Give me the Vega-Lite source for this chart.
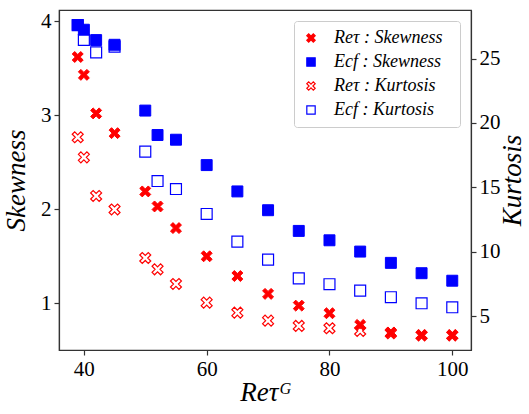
{
  "$schema": "https://vega.github.io/schema/vega-lite/v6.json",
  "width": 412,
  "height": 340,
  "autosize": {"type": "none"},
  "padding": {"left": 59, "top": 10, "right": 58, "bottom": 64},
  "background": "white",
  "config": {
    "view": {"stroke": "#333", "strokeWidth": 1.2},
    "axis": {
      "domainColor": "#333", "tickColor": "#333", "domainWidth": 1.2, "tickWidth": 1.2,
      "labelFont": "Liberation Serif", "labelFontSize": 21, "labelColor": "black",
      "titleFont": "Liberation Serif", "titleFontStyle": "italic", "titleFontSize": 27,
      "titleFontWeight": "normal", "titleColor": "black", "grid": false, "tickSize": 5, "labelPadding": 3
    },
    "legend": {
      "labelFont": "Liberation Serif", "labelFontStyle": "italic", "labelFontSize": 18, "labelColor": "black"
    }
  },
  "data": {
    "values": [
      {"re": 39, "s": "ReS", "v": 3.62}, {"re": 40, "s": "ReS", "v": 3.43}, {"re": 42, "s": "ReS", "v": 3.02}, {"re": 45, "s": "ReS", "v": 2.81},
      {"re": 50, "s": "ReS", "v": 2.19}, {"re": 52, "s": "ReS", "v": 2.03}, {"re": 55, "s": "ReS", "v": 1.80}, {"re": 60, "s": "ReS", "v": 1.50},
      {"re": 65, "s": "ReS", "v": 1.29}, {"re": 70, "s": "ReS", "v": 1.10}, {"re": 75, "s": "ReS", "v": 0.975}, {"re": 80, "s": "ReS", "v": 0.894},
      {"re": 85, "s": "ReS", "v": 0.77}, {"re": 90, "s": "ReS", "v": 0.69}, {"re": 95, "s": "ReS", "v": 0.66}, {"re": 100, "s": "ReS", "v": 0.66},
      {"re": 39, "s": "EcS", "v": 3.96}, {"re": 40, "s": "EcS", "v": 3.91}, {"re": 42, "s": "EcS", "v": 3.80}, {"re": 45, "s": "EcS", "v": 3.75},
      {"re": 50, "s": "EcS", "v": 3.05}, {"re": 52, "s": "EcS", "v": 2.79}, {"re": 55, "s": "EcS", "v": 2.74}, {"re": 60, "s": "EcS", "v": 2.47},
      {"re": 65, "s": "EcS", "v": 2.19}, {"re": 70, "s": "EcS", "v": 1.99}, {"re": 75, "s": "EcS", "v": 1.77}, {"re": 80, "s": "EcS", "v": 1.67},
      {"re": 85, "s": "EcS", "v": 1.55}, {"re": 90, "s": "EcS", "v": 1.43}, {"re": 95, "s": "EcS", "v": 1.32}, {"re": 100, "s": "EcS", "v": 1.24},
      {"re": 39, "s": "ReK", "v": 18.89}, {"re": 40, "s": "ReK", "v": 17.33}, {"re": 42, "s": "ReK", "v": 14.33}, {"re": 45, "s": "ReK", "v": 13.28},
      {"re": 50, "s": "ReK", "v": 9.51}, {"re": 52, "s": "ReK", "v": 8.63}, {"re": 55, "s": "ReK", "v": 7.49}, {"re": 60, "s": "ReK", "v": 6.04},
      {"re": 65, "s": "ReK", "v": 5.26}, {"re": 70, "s": "ReK", "v": 4.64}, {"re": 75, "s": "ReK", "v": 4.23}, {"re": 80, "s": "ReK", "v": 4.05},
      {"re": 85, "s": "ReK", "v": 3.84}, {"re": 90, "s": "ReK", "v": 3.66}, {"re": 95, "s": "ReK", "v": 3.5}, {"re": 100, "s": "ReK", "v": 3.5},
      {"re": 39, "s": "EcK", "v": 27.6}, {"re": 40, "s": "EcK", "v": 26.45}, {"re": 42, "s": "EcK", "v": 25.49}, {"re": 45, "s": "EcK", "v": 25.93},
      {"re": 50, "s": "EcK", "v": 17.77}, {"re": 52, "s": "EcK", "v": 15.49}, {"re": 55, "s": "EcK", "v": 14.87}, {"re": 60, "s": "EcK", "v": 12.93},
      {"re": 65, "s": "EcK", "v": 10.78}, {"re": 70, "s": "EcK", "v": 9.38}, {"re": 75, "s": "EcK", "v": 7.93}, {"re": 80, "s": "EcK", "v": 7.47},
      {"re": 85, "s": "EcK", "v": 6.97}, {"re": 90, "s": "EcK", "v": 6.46}, {"re": 95, "s": "EcK", "v": 5.99}, {"re": 100, "s": "EcK", "v": 5.68}
    ]
  },
  "encoding": {
    "x": {
      "field": "re", "type": "quantitative",
      "scale": {"domain": [35.95, 103.05], "nice": false, "zero": false},
      "axis": {"values": [40, 60, 80, 100], "title": "Reτᴳ", "titlePadding": 0}
    },
    "color": {
      "field": "s", "type": "nominal",
      "scale": {"domain": ["ReS", "EcS", "ReK", "EcK"], "range": ["#ff0000", "#0000ff", "#ff0000", "#0000ff"]},
      "legend": {
        "title": null, "orient": "top-right", "offset": 11,
        "strokeColor": "#cccccc", "fillColor": "white", "cornerRadius": 3, "padding": 8,
        "rowPadding": 6, "symbolSize": 70, "symbolStrokeWidth": 1.2, "labelOffset": 14,
        "labelExpr": "datum.value == 'ReS' ? 'Reτ  :  Skewness' : datum.value == 'EcS' ? 'Ecf  :  Skewness' : datum.value == 'ReK' ? 'Reτ  :  Kurtosis' : 'Ecf  :  Kurtosis'"
      }
    },
    "fill": {
      "field": "s", "type": "nominal",
      "scale": {"domain": ["ReS", "EcS", "ReK", "EcK"], "range": ["#ff0000", "#0000ff", "transparent", "transparent"]},
      "legend": null
    },
    "shape": {
      "field": "s", "type": "nominal",
      "scale": {
        "domain": ["ReS", "EcS", "ReK", "EcK"],
        "range": [
          "M -1 -0.55 L -0.55 -1 L 0 -0.45 L 0.55 -1 L 1 -0.55 L 0.45 0 L 1 0.55 L 0.55 1 L 0 0.45 L -0.55 1 L -1 0.55 L -0.45 0 Z",
          "square",
          "M -1 -0.55 L -0.55 -1 L 0 -0.45 L 0.55 -1 L 1 -0.55 L 0.45 0 L 1 0.55 L 0.55 1 L 0 0.45 L -0.55 1 L -1 0.55 L -0.45 0 Z",
          "square"
        ]
      },
      "legend": null
    }
  },
  "layer": [
    {
      "transform": [{"filter": "datum.s == 'ReS' || datum.s == 'EcS'"}],
      "mark": {"type": "point", "size": 120, "strokeWidth": 1, "opacity": 1, "filled": false},
      "encoding": {
        "y": {
          "field": "v", "type": "quantitative",
          "scale": {"domain": [0.503, 4.12], "nice": false, "zero": false},
          "axis": {"values": [1, 2, 3, 4], "title": "Skewness", "orient": "left", "titlePadding": 10}
        }
      }
    },
    {
      "transform": [{"filter": "datum.s == 'ReK' || datum.s == 'EcK'"}],
      "mark": {"type": "point", "size": 120, "strokeWidth": 1.2, "opacity": 1, "filled": false},
      "encoding": {
        "y": {
          "field": "v", "type": "quantitative",
          "scale": {"domain": [2.36, 28.78], "nice": false, "zero": false},
          "axis": {"values": [5, 10, 15, 20, 25], "title": "Kurtosis", "orient": "right", "titleAngle": 270, "titlePadding": 26}
        }
      }
    }
  ],
  "resolve": {"scale": {"y": "independent"}}
}
